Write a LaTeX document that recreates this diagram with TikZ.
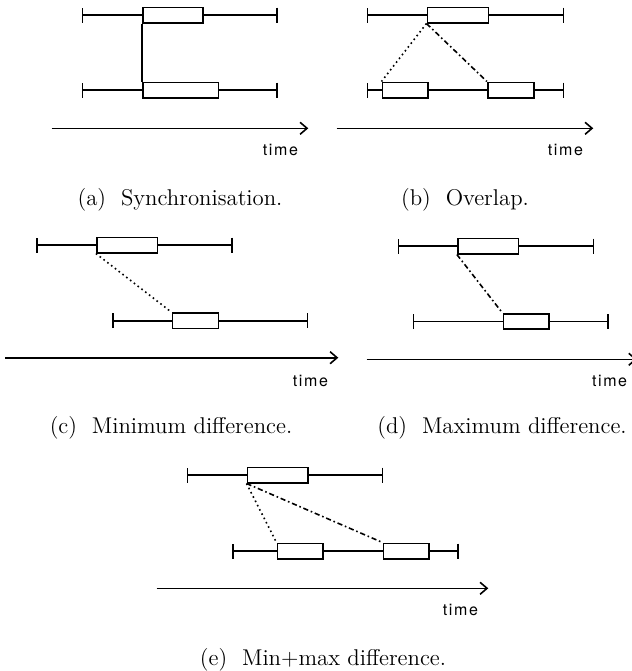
\documentclass[tikz,border=0pt]{standalone}
\usepackage{fontspec}
\newfontfamily\timefont[LetterSpace=10]{TeX Gyre Heros}
\usetikzlibrary{arrows.meta,fit}
\tikzset{
  lw/.style={line width=0.8pt},
  whisk/.style={lw, {Bar[width=7.5pt]}-{Bar[width=7.5pt]}},
  ivbox/.style={draw, lw, fill=white, inner sep=0pt, rectangle},
  syncline/.style={lw},
  minline/.style={lw, dash pattern=on 0.8pt off 1.6pt},
  maxline/.style={lw, dash pattern=on 2.6pt off 1.4pt on 0.8pt off 1.4pt},
  timeax/.style={lw, -{Straight Barb[length=3.5pt,width=6pt]}},
  timelbl/.style={anchor=base east, inner sep=0pt, font=\timefont\fontsize{8}{9}\selectfont},
  caption/.style={anchor=base, inner sep=0pt, font=\fontsize{11.4}{13}\selectfont},
}
\newcommand\ivline[4]{%
  \coordinate (#1l) at (#2,#4);
  \coordinate (#1r) at (#3,#4);
  \draw[whisk] (#1l) -- (#1r);}
\newcommand\ivrect[4]{%
  \node[ivbox, fit={(#2,{#4-7.7}) (#3,{#4+7.7})}] (#1) {};}
\newcommand\timeaxis[5]{%
  \coordinate (#1s) at (#2,#4);
  \coordinate (#1e) at (#3,#4);
  \draw[timeax] (#1s) -- (#1e);
  \node[timelbl] (#1t) at ({#3-10},{#4+27}) {time};
  \node[caption] (#1c) at ({(#2+#3)/2},#5) {};}
\begin{document}
\begin{tikzpicture}[x=0.5pt,y=-0.5pt]
\clip (0,0) rectangle (632,671);
\useasboundingbox (0,0) rectangle (632,671);

% (a) Synchronisation
\ivline{aTw}{81.7}{278}{15}
\ivrect{aT}{142.7}{203}{15}
\ivline{aBw}{81.7}{278}{90}
\ivrect{aB}{142.7}{218.3}{90}
\draw[syncline] (aT.south west) -- (aB.north west);
\coordinate (aAs) at (51.7,128.3);
\coordinate (aAe) at (308.3,128.3);
\draw[timeax] (aAs) -- (aAe);
\node[timelbl] (aTime) at (298.3,155.3) {time};
\node[caption] (aCap) at (180,205) {(a)~~Synchronisation.};

% (b) Overlap
\ivline{bTw}{366.7}{564.3}{15}
\ivrect{bT}{427.3}{488.3}{15}
\ivline{bBw}{366.7}{564.3}{90}
\ivrect{bB1}{382.3}{427.7}{90}
\ivrect{bB2}{487.7}{534}{90}
\draw[minline] (bT.south west) -- (bB1.north west);
\draw[maxline] (bT.south west) -- (bB2.north west);
\coordinate (bAs) at (336.7,128.3);
\coordinate (bAe) at (593.3,128.3);
\draw[timeax] (bAs) -- (bAe);
\node[timelbl] (bTime) at (583.3,155.3) {time};
\node[caption] (bCap) at (465,205) {(b)~~Overlap.};

% (c) Minimum difference
\ivline{cTw}{36}{232.7}{245}
\ivrect{cT}{96.7}{157.3}{245}
\ivline{cBw}{112.3}{308.3}{320.7}
\ivrect{cB}{172.3}{218.3}{320.7}
\draw[minline] (cT.south west) -- (cB.north west);
\coordinate (cAs) at (5,357.7);
\coordinate (cAe) at (338.3,357.7);
\draw[timeax] (cAs) -- (cAe);
\node[timelbl] (cTime) at (328.3,386.5) {time};
\node[caption] (cCap) at (171,433) {(c)~~Minimum difference.};

% (d) Maximum difference
\ivline{dTw}{397.7}{594.3}{246}
\ivrect{dT}{457.7}{518.3}{246}
\ivline{dBw}{412.7}{609}{321.5}
\ivrect{dB}{503.3}{549}{321.5}
\draw[maxline] (dT.south west) -- (dB.north west);
\coordinate (dAs) at (366.7,359.3);
\coordinate (dAe) at (637,359.3);
\draw[timeax] (dAs) -- (dAe);
\node[timelbl] (dTime) at (627.5,386.5) {time};
\node[caption] (dCap) at (502,433) {(d)~~Maximum difference.};

% (e) Min+max difference
\ivline{eTw}{186.7}{383.3}{475}
\ivrect{eT}{247.3}{307.7}{475}
\ivline{eBw}{232.3}{459}{551}
\ivrect{eB1}{277.3}{322.7}{551}
\ivrect{eB2}{383.3}{429}{551}
\draw[minline] (eT.south west) -- (eB1.north west);
\draw[maxline] (eT.south west) -- (eB2.north west);
\coordinate (eAs) at (156.7,588.3);
\coordinate (eAe) at (488.3,588.3);
\draw[timeax] (eAs) -- (eAe);
\node[timelbl] (eTime) at (478.3,615) {time};
\node[caption] (eCap) at (323,665) {(e)~~Min+max difference.};
\end{tikzpicture}
\end{document}
